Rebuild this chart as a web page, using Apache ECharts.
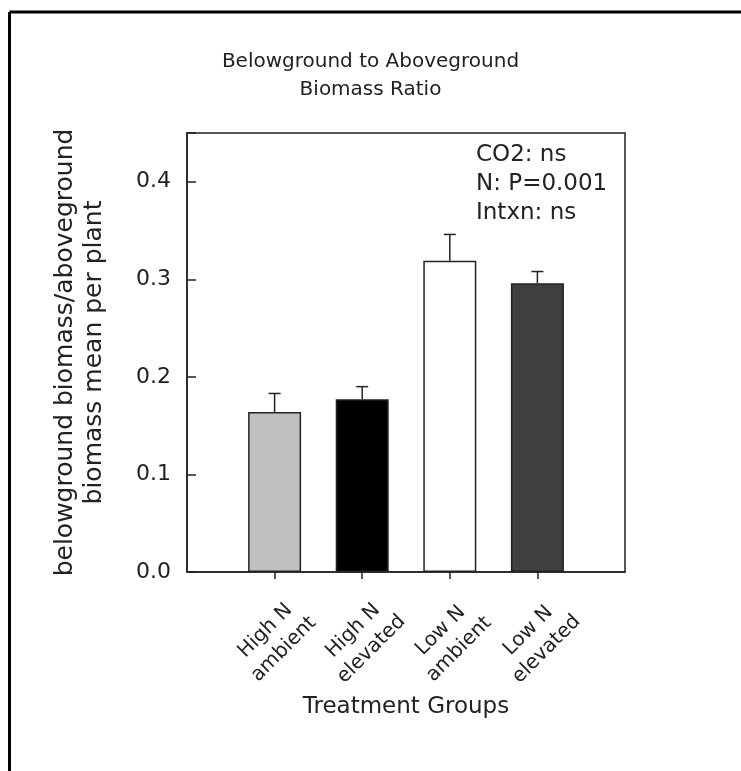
<!DOCTYPE html>
<html>
<head>
<meta charset="utf-8">
<script src="https://cdn.jsdelivr.net/npm/echarts@6/dist/echarts.min.js"></script>
<style>
html,body{margin:0;padding:0;background:#fff;}
#chart{width:741px;height:771px;}
</style>
</head>
<body>
<div id="chart"></div>
<script>
// Data
const categories = ['', 'High N\nambient', 'High N\nelevated', 'Low N\nambient', 'Low N\nelevated', ''];
const means = [null, 0.164, 0.177, 0.319, 0.296, null];
const errorTops = [null, 0.183, 0.190, 0.346, 0.308, null];
const barColors = ['#ffffff', '#c0c0c0', '#000000', '#ffffff', '#404040', '#ffffff'];
const yTicks = [0.0, 0.1, 0.2, 0.3, 0.4];
const statsText = ['CO2: ns', 'N: P=0.001', 'Intxn: ns'];

const FONT = 'DejaVu Sans';
const chart = echarts.init(document.getElementById('chart'), null, {renderer: 'canvas'});

const gridLeft = 187, gridTop = 133, gridRight = 116, gridBottom = 199;

const option = {
  backgroundColor: '#fff',
  animation: false,
  title: {
    text: 'Belowground to Aboveground\nBiomass Ratio',
    left: 'center',
    top: 43,
    textStyle: {fontFamily: FONT, fontSize: 20, fontWeight: 'normal', color: '#222', lineHeight: 28}
  },
  grid: {left: gridLeft, top: gridTop, right: gridRight, bottom: gridBottom, show: true, borderColor: '#222', borderWidth: 1.5},
  xAxis: {
    type: 'category',
    data: categories,
    boundaryGap: false,
    name: 'Treatment Groups',
    nameLocation: 'middle',
    nameGap: 124,
    nameMoveOverlap: false,
    nameTextStyle: {fontFamily: FONT, fontSize: 23, color: '#222'},
    axisLine: {lineStyle: {color: '#222', width: 1.5}},
    axisTick: {show: true, inside: false, length: 7, lineStyle: {color: '#222', width: 1.5},
      interval: function (i) { return i >= 1 && i <= 4; }},
    axisLabel: {interval: 0, rotate: 45, align: 'center', verticalAlign: 'middle', margin: 68,
      fontFamily: FONT, fontSize: 20, lineHeight: 26, color: '#222'},
    splitLine: {show: false}
  },
  yAxis: {
    type: 'value',
    min: 0, max: 0.45, interval: 0.1,
    name: 'belowground biomass/aboveground\nbiomass mean per plant',
    nameLocation: 'middle',
    nameGap: 78,
    nameMoveOverlap: false,
    nameTextStyle: {fontFamily: FONT, fontSize: 25, color: '#222', lineHeight: 29},
    axisLine: {show: true, lineStyle: {color: '#222', width: 1.5}},
    axisTick: {show: true, inside: true, length: 9, lineStyle: {color: '#222', width: 1.5}},
    axisLabel: {fontFamily: FONT, fontSize: 22, color: '#222', margin: 16,
      formatter: function (v) { return yTicks.some(t => Math.abs(t - v) < 1e-9) ? v.toFixed(1) : ''; }},
    splitLine: {show: false}
  },
  series: [
    {
      type: 'bar',
      barWidth: 53,
      data: means.map((v, i) => ({value: v, itemStyle: {color: barColors[i], borderColor: '#222', borderWidth: 1.5}})),
      z: 2
    },
    {
      type: 'custom',
      z: 3,
      data: means.map((v, i) => [i, v, errorTops[i]]),
      renderItem: function (params, api) {
        const m = api.value(1), e = api.value(2);
        if (m == null || e == null || isNaN(m) || isNaN(e)) return;
        const p0 = api.coord([api.value(0), m]);
        const p1 = api.coord([api.value(0), e]);
        const hw = 6;
        return {
          type: 'group',
          children: [
            {type: 'line', shape: {x1: p0[0], y1: p0[1], x2: p1[0], y2: p1[1]}, style: {stroke: '#222', lineWidth: 1.5}},
            {type: 'line', shape: {x1: p1[0] - hw, y1: p1[1], x2: p1[0] + hw, y2: p1[1]}, style: {stroke: '#222', lineWidth: 1.5}}
          ]
        };
      }
    }
  ],
  graphic: [
    {type: 'line', shape: {x1: 9.5, y1: 12, x2: 741, y2: 12}, style: {stroke: '#000', lineWidth: 3}},
    {type: 'line', shape: {x1: 9.5, y1: 12, x2: 9.5, y2: 771}, style: {stroke: '#000', lineWidth: 3}},
    {type: 'text', left: 476, top: 141, style: {text: statsText.join('\n'), fontFamily: FONT, fontSize: 23, lineHeight: 29, fill: '#222'}}
  ]
};
chart.setOption(option);
</script>
</body>
</html>
